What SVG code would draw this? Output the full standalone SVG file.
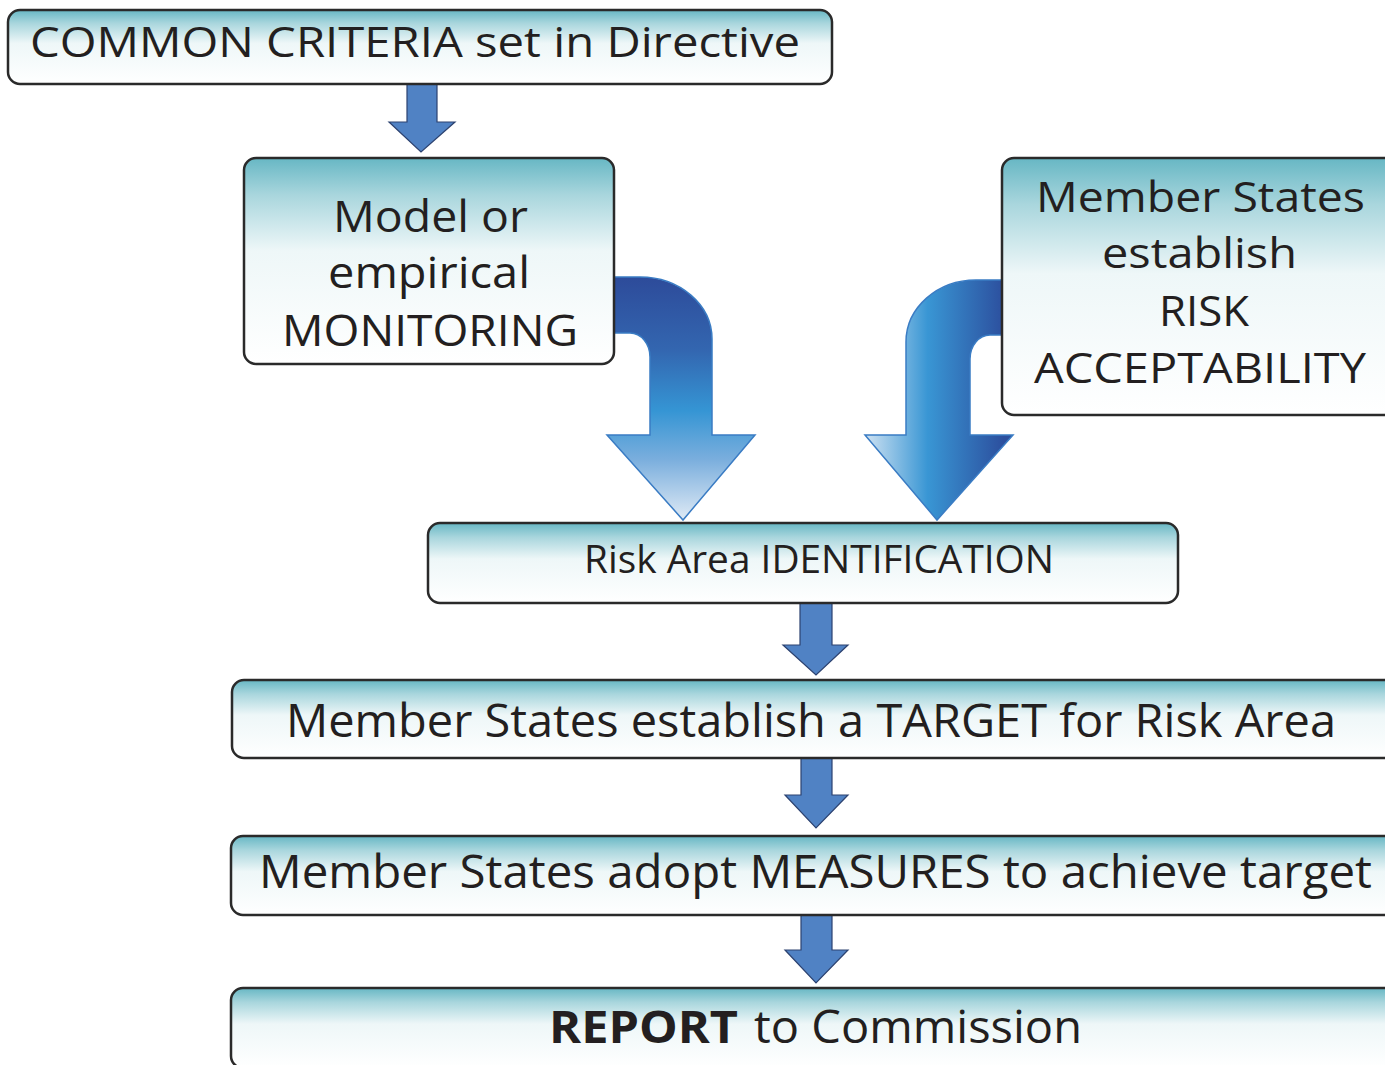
<svg xmlns="http://www.w3.org/2000/svg" width="1385" height="1065" viewBox="0 0 1385 1065">
<style>
.box{stroke:#2a2a2a;stroke-width:2.5;fill:url(#boxGrad)}
.t{font-family:"Open Sans","Liberation Sans",sans-serif;fill:#231f20;font-size:42px}
.small{fill:#5082c4;stroke:#2c4270;stroke-width:1.2}
.big{stroke:#3a7cc4;stroke-width:1.5}
</style>
<defs>
<linearGradient id="boxGrad" x1="0" y1="0" x2="0" y2="1">
<stop offset="0" stop-color="#67b7c4"/>
<stop offset="0.18" stop-color="#a9d6dd"/>
<stop offset="0.45" stop-color="#eef7f8"/>
<stop offset="1" stop-color="#ffffff"/>
</linearGradient>
<linearGradient id="gradL" gradientUnits="userSpaceOnUse" x1="0" y1="277" x2="0" y2="520">
<stop offset="0" stop-color="#2d4b9a"/>
<stop offset="0.3" stop-color="#3366b0"/>
<stop offset="0.55" stop-color="#3595d4"/>
<stop offset="0.75" stop-color="#7aaedd"/>
<stop offset="1" stop-color="#dfeaf5"/>
</linearGradient>
<linearGradient id="gradR" gradientUnits="userSpaceOnUse" x1="865" y1="0" x2="1004" y2="0">
<stop offset="0" stop-color="#cfe2f2"/>
<stop offset="0.45" stop-color="#3996d4"/>
<stop offset="1" stop-color="#2c4f9e"/>
</linearGradient>
</defs>
<g id="connectors">
<path class="small" d="M407 84 L437 84 L437 122 L455 122 L421 152 L389 122 L407 122 Z"/>
<path class="big" fill="url(#gradL)" d="M612 277 L640 277 A72 62 0 0 1 712 339 L712 435 L755 435 L683 520 L607 435 L650 435 L650 357 A20 24 0 0 0 630 333 L612 333 Z"/>
<path class="big" fill="url(#gradR)" d="M1004 280 L976 280 A70 62 0 0 0 906 342 L906 435 L865 435 L937 520 L1013 435 L970 435 L970 359 A20 24 0 0 1 990 335 L1004 335 Z"/>
<path class="small" d="M800 603 L832 603 L832 645 L848 645 L816 675 L783 645 L800 645 Z"/>
<path class="small" d="M801 758 L832 758 L832 795 L848 795 L816 828 L785 795 L801 795 Z"/>
<path class="small" d="M801 915 L832 915 L832 950 L848 950 L816 983 L785 950 L801 950 Z"/>
</g>
<g id="node-criteria">
<rect class="box" x="8" y="10" width="824" height="74" rx="12"/>
<text class="t" x="30" y="57" textLength="770" lengthAdjust="spacingAndGlyphs">COMMON CRITERIA set in Directive</text>
</g>
<g id="node-monitoring">
<rect class="box" x="244" y="158" width="370" height="206" rx="12"/>
<text class="t" style="font-size:44px" x="333" y="232" textLength="195" lengthAdjust="spacingAndGlyphs">Model or</text>
<text class="t" style="font-size:44px" x="328" y="288" textLength="202" lengthAdjust="spacingAndGlyphs">empirical</text>
<text class="t" style="font-size:44px" x="282" y="346" textLength="296" lengthAdjust="spacingAndGlyphs">MONITORING</text>
</g>
<g id="node-acceptability">
<rect class="box" x="1002" y="158" width="400" height="257" rx="12"/>
<text class="t" x="1036" y="212" textLength="329" lengthAdjust="spacingAndGlyphs">Member States</text>
<text class="t" x="1102" y="268" textLength="195" lengthAdjust="spacingAndGlyphs">establish</text>
<text class="t" x="1159" y="326" textLength="90" lengthAdjust="spacingAndGlyphs">RISK</text>
<text class="t" x="1034" y="383" textLength="332" lengthAdjust="spacingAndGlyphs">ACCEPTABILITY</text>
</g>
<g id="node-identification">
<rect class="box" x="428" y="523" width="750" height="80" rx="12"/>
<text class="t" style="font-size:39px" x="584" y="573" textLength="470" lengthAdjust="spacingAndGlyphs">Risk Area IDENTIFICATION</text>
</g>
<g id="node-target">
<rect class="box" x="232" y="680" width="1165" height="78" rx="12"/>
<text class="t" style="font-size:45px" x="286" y="737" textLength="1050" lengthAdjust="spacingAndGlyphs">Member States establish a TARGET for  Risk Area</text>
</g>
<g id="node-measures">
<rect class="box" x="231" y="836" width="1166" height="79" rx="12"/>
<text class="t" style="font-size:45px" x="259" y="888" textLength="1113" lengthAdjust="spacingAndGlyphs">Member States adopt MEASURES to achieve target</text>
</g>
<g id="node-report">
<rect class="box" x="231" y="988" width="1166" height="80" rx="12"/>
<text class="t" style="font-size:45px" y="1043"><tspan x="549" font-weight="bold" textLength="189" lengthAdjust="spacingAndGlyphs">REPORT</tspan><tspan x="754" textLength="328" lengthAdjust="spacingAndGlyphs">to Commission</tspan></text>
</g>
</svg>
